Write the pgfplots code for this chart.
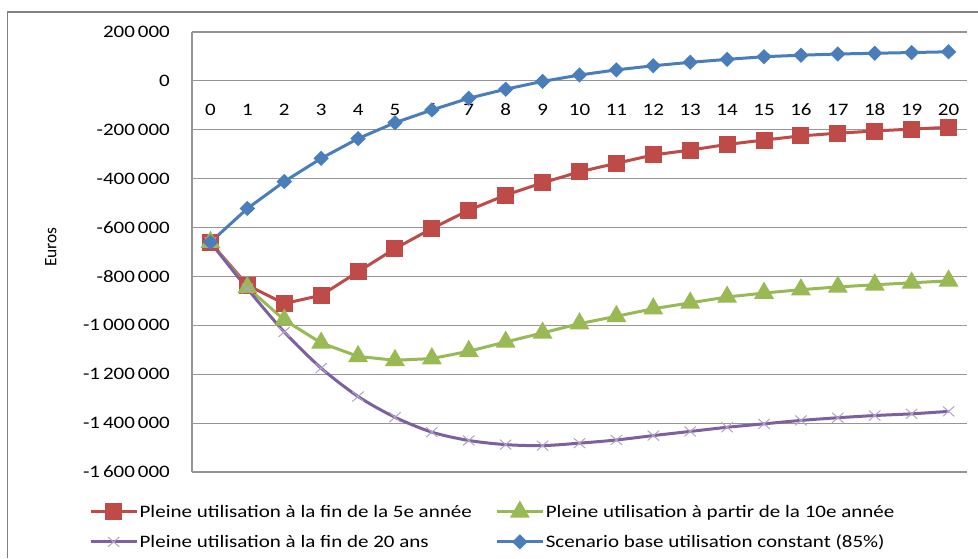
\documentclass[border=0pt]{standalone}
\usepackage{fontspec}
\setmainfont{Carlito}[FakeStretch=1.2]
\newfontfamily\plainfont{Carlito}
\usepackage{pgfplots}
\pgfplotsset{compat=1.18}
\definecolor{cblue}{HTML}{4A7EBB}
\definecolor{cred}{HTML}{BE4B48}
\definecolor{cgreen}{HTML}{98B954}
\definecolor{cpurple}{HTML}{7D60A0}
\definecolor{cpurplelight}{HTML}{B3A2C7}
\definecolor{cgrid}{HTML}{969696}
\pgfplotstableread{
x y
0 -660000
1 -836000
2 -911000
3 -877000
4 -781000
5 -686000
6 -604000
7 -529000
8 -467000
9 -417000
10 -372000
11 -337000
12 -303000
13 -283000
14 -260000
15 -242000
16 -225000
17 -214000
18 -205000
19 -197000
20 -190000
}\tred
\pgfplotstableread{
x y
0 -660000
1 -845000
2 -978000
3 -1072000
4 -1127000
5 -1143000
6 -1136000
7 -1106000
8 -1068000
9 -1031000
10 -993000
11 -963000
12 -932000
13 -908000
14 -884000
15 -868000
16 -854000
17 -843000
18 -834000
19 -826000
20 -818000
}\tgreen
\pgfplotstableread{
x y
0 -660000
1 -850000
2 -1027000
3 -1175000
4 -1291000
5 -1376000
6 -1437000
7 -1471000
8 -1488000
9 -1492000
10 -1482000
11 -1469000
12 -1451000
13 -1434000
14 -1417000
15 -1403000
16 -1389000
17 -1378000
18 -1369000
19 -1362000
20 -1352000
}\tpurple
\pgfplotstableread{
x y
0 -660000
1 -522000
2 -412000
3 -317000
4 -236000
5 -171000
6 -119000
7 -71000
8 -34000
9 -2000
10 24000
11 45000
12 62000
13 76000
14 88000
15 99000
16 105000
17 110000
18 113000
19 116000
20 119000
}\tblue
\begin{document}
\begin{tikzpicture}[x=1pt,y=1pt,font=\fontsize{17.5}{21}\selectfont]
\useasboundingbox (0,0) rectangle (978,558);
\draw[color=black!50, line width=1.6pt] (7.5,0) -- (7.5,546) -- (978,546);
\begin{axis}[
  at={(192pt,86pt)}, anchor=south west,
  scale only axis, width=775pt, height=440pt,
  xmin=-0.5, xmax=20.5, ymin=-1600000, ymax=200000,
  scaled y ticks=false,
  axis x line*=middle, axis y line*=left,
  axis line style={cgrid, line width=1.1pt, -},
  xtick={0,1,...,20},
  ytick={-1600000,-1400000,-1200000,-1000000,-800000,-600000,-400000,-200000,0,200000},
  yticklabels={-1\,600\,000,-1\,400\,000,-1\,200\,000,-1\,000\,000,-800\,000,-600\,000,-400\,000,-200\,000,0,200\,000},
  /pgf/number format/assume math mode=true,
  major tick length=0pt,
  tick style={draw=none},
  ymajorgrids, grid style={cgrid, line width=1.1pt},
  xticklabel style={anchor=center, yshift=-29pt},
  yticklabel style={anchor=east, inner sep=0pt, xshift=-22pt},
  ylabel={\plainfont Euros},
  ylabel style={at={(axis description cs:-0.182,0.511)}, anchor=center, rotate=0},
  legend columns=2,
  legend cell align=left,
  legend style={draw=none, fill=none, at={(axis description cs:-0.133,-0.071)}, anchor=north west,
    inner sep=0pt, row sep=13pt,
    nodes={inner sep=1.5pt},
    /tikz/every even column/.append style={column sep=22pt}},
  legend image code/.code={\draw[mark repeat=2, mark phase=2] plot coordinates {(0pt,0pt) (23pt,0pt) (46pt,0pt)};},
  every axis plot/.append style={line width=3pt},
]
\addplot[cred, mark=square*, mark size=7pt, mark options={solid}] table[x=x,y=y] {\tred};
\addlegendentry{Pleine utilisation à la fin de la 5e année}
\addplot[cgreen, mark=triangle*, mark size=8.5pt, mark options={solid}] table[x=x,y=y] {\tgreen};
\addlegendentry{Pleine utilisation à partir de la 10e année}
\addplot[cpurple, smooth, mark=x, mark size=7pt, mark options={solid, cpurplelight, line width=1pt, xscale=1.15}] table[x=x,y=y] {\tpurple};
\addlegendentry{Pleine utilisation à la fin de 20 ans}
\addplot[cblue, mark=diamond*, mark size=5.5pt, mark options={solid, xscale=1.35}] table[x=x,y=y] {\tblue};
\addlegendentry{Scenario base utilisation constant (85\%)}
\end{axis}
\end{tikzpicture}
\end{document}
